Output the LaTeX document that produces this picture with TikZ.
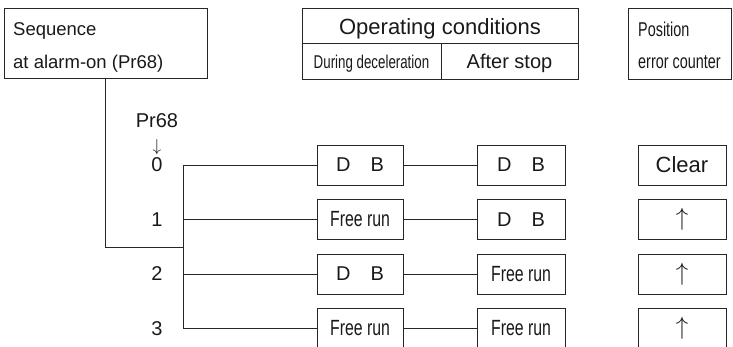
\documentclass[tikz,border=0pt]{standalone}
\usepackage{fontspec}
\setmainfont{Liberation Sans}
\newfontfamily\narrowfont[FakeStretch=0.72]{Liberation Sans}
\usetikzlibrary{calc}
\def\fs#1{\fontsize{#1}{#1}\selectfont}

\begin{document}
\begin{tikzpicture}[x=1pt,y=-1pt,
  box/.style={draw=black!85,line width=0.9pt,minimum width=88pt,minimum height=40pt,inner sep=0pt,text=black!90,font=\fs{20}},
  wire/.style={draw=black!85,line width=0.8pt},
  txt/.style={text=black!90,inner sep=0pt},
  free/.style={font=\narrowfont\fs{22}}]
\useasboundingbox (0,0) rectangle (733,346);
%\draw[help lines,step=50] (0,0) grid (733,346);

% heading boxes
\node[box,minimum width=203pt,minimum height=70pt] (seq) at (105.5,43){};
\node[txt,anchor=base west,font=\fs{18.5}] (seq1) at (13,35){Sequence};
\node[txt,anchor=base west,font=\fs{18.5}] (seq2) at (13,68){at alarm-on (Pr68)};
\draw[black!85,line width=0.9pt] (302,8) rectangle (578,79);
\draw[black!85,line width=0.9pt] (302,43)--(578,43);
\draw[black!85,line width=0.9pt] (441,43)--(441,79);
\node[txt,anchor=base,font=\fs{22}] (opc) at (440,34){Operating conditions};
\node[txt,anchor=base,font=\narrowfont\fs{18.5}] (dec) at (371.5,68){During deceleration};
\node[txt,anchor=base,font=\fs{20}] (aft) at (509.5,68){After stop};
\node[box,minimum width=103pt,minimum height=71pt] (pos) at (680,43.5){};
\node[txt,anchor=base west,font=\narrowfont\fs{20}] (pos1) at (638,36){Position};
\node[txt,anchor=base west,font=\narrowfont\fs{20}] (pos2) at (638,68){error counter};

% parameter values
\node[txt,font=\fs{20}] (pr) at (157,121){Pr68};
\node[txt,font=\fs{17}] (dn) at (157,147){$\downarrow$};
\foreach \n/\y in {0/165,1/219.5,2/274,3/328.5}{
  \node[txt,font=\fs{20}] (v\n) at (157,\y){\n};
  \coordinate (bus\n) at (183,\y);
}

% result boxes
\node[box,minimum width=86pt] (a0) at (360,165){D\hspace{1em}B};
\node[box,minimum width=86pt,free] (a1) at (360,219.5){Free run};
\node[box,minimum width=86pt] (a2) at (360,274){D\hspace{1em}B};
\node[box,minimum width=86pt,free] (a3) at (360,328.5){Free run};
\node[box] (b0) at (521,165){D\hspace{1em}B};
\node[box] (b1) at (521,219.5){D\hspace{1em}B};
\node[box,free] (b2) at (521,274){Free run};
\node[box,free] (b3) at (521,328.5){Free run};
\node[box,font=\fs{22}] (c0) at (682,165){Clear};
\node[box,font=\fs{26}] (c1) at (682,219.5){$\uparrow$};
\node[box,font=\fs{26}] (c2) at (682,274){$\uparrow$};
\node[box,font=\fs{26}] (c3) at (682,328.5){$\uparrow$};

% connections
\coordinate (join) at (183,247);
\draw[wire] (seq.south) |- (join);
\draw[wire] (bus0) -- (bus3);
\foreach \n in {0,1,2,3}{
  \draw[wire] (bus\n) -- (a\n.west);
  \draw[wire] (a\n.east) -- (b\n.west);
}
\end{tikzpicture}
\end{document}
